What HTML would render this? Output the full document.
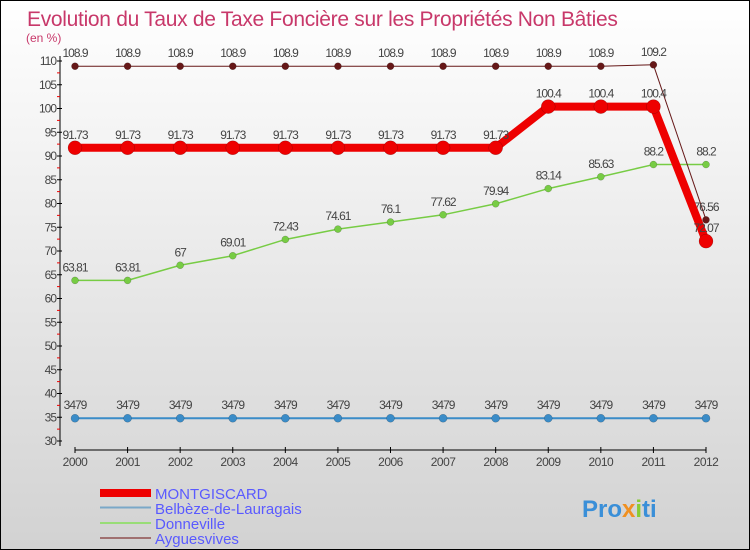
<!DOCTYPE html>
<html><head><meta charset="utf-8"><style>
body{margin:0}
svg{display:block;font-family:"Liberation Sans",sans-serif}
</style></head><body>
<svg width="750" height="550" viewBox="0 0 750 550">
<defs><linearGradient id="bg" x1="0" y1="0" x2="0" y2="1"><stop offset="0" stop-color="#ffffff"/><stop offset="1" stop-color="#d2d2d2"/></linearGradient></defs>
<rect x="0.5" y="0.5" width="749" height="549" fill="url(#bg)" stroke="#000"/>
<text x="27" y="26" font-size="21" fill="#c8386a" letter-spacing="-0.3">Evolution du Taux de Taxe Foncière sur les Propriétés Non Bâties</text>
<text x="26" y="42" font-size="12" fill="#c8386a">(en %)</text>
<g id="axes"></g><g id="series"></g>
<g>
<rect x="100" y="489" width="51" height="8" fill="#ee0000"/>
<text x="155" y="499" font-size="15" fill="#5a5aff">MONTGISCARD</text>
<rect x="100" y="506.5" width="51" height="2" fill="#7aa8c8"/>
<text x="155" y="514" font-size="15" fill="#5a5aff">Belbèze-de-Lauragais</text>
<rect x="100" y="522" width="51" height="2" fill="#99dd77"/>
<text x="155" y="529" font-size="15" fill="#5a5aff">Donneville</text>
<rect x="100" y="537" width="51" height="2" fill="#a07070"/>
<text x="155" y="544" font-size="15" fill="#5a5aff">Ayguesvives</text>
</g>
<text x="582" y="517" font-size="24" font-weight="bold" fill="#3a8fd8">Pro<tspan fill="#f09020">x</tspan><tspan fill="#88cc33">i</tspan>ti</text>
</svg>
<script>
const years=["2000","2001","2002","2003","2004","2005","2006","2007","2008","2009","2010","2011","2012"];
const yTicks=[30,35,40,45,50,55,60,65,70,75,80,85,90,95,100,105,110];
const montgiscard=[91.73,91.73,91.73,91.73,91.73,91.73,91.73,91.73,91.73,100.4,100.4,100.4,72.07];
const belbeze=[34.79,34.79,34.79,34.79,34.79,34.79,34.79,34.79,34.79,34.79,34.79,34.79,34.79];
const donneville=[63.81,63.81,67,69.01,72.43,74.61,76.1,77.62,79.94,83.14,85.63,88.2,88.2];
const ayguesvives=[108.9,108.9,108.9,108.9,108.9,108.9,108.9,108.9,108.9,108.9,108.9,109.2,76.56];
const NS="http://www.w3.org/2000/svg";
const xs=i=>75+i*(706-75)/12;
const ys=v=>441-(v-30)*380/80;
function mk(tag,at,parent){const e=document.createElementNS(NS,tag);for(const k in at)e.setAttribute(k,at[k]);parent.appendChild(e);return e;}
const ax=document.getElementById('axes');
let l=mk('line',{x1:60,y1:56,x2:60,y2:446,stroke:'#000'},ax);


l=mk('line',{x1:75,y1:450,x2:706,y2:450,stroke:'#000'},ax);


yTicks.forEach(v=>{const y=ys(v);
 mk('line',{x1:57,y1:y,x2:62,y2:y,stroke:'#000'},ax);
 if(v<110)mk('line',{x1:57,y1:ys(v+2.5),x2:60,y2:ys(v+2.5),stroke:'#e00'},ax);
 const t=mk('text',{x:56,y:y+4,'font-size':12,'text-anchor':'end',fill:'#444','letter-spacing':'-1'},ax);t.textContent=v;
 
 
});
years.forEach((yr,i)=>{const x=xs(i);
 mk('line',{x1:x,y1:447,x2:x,y2:453,stroke:'#000'},ax);
 const t=mk('text',{x:x,y:466,'font-size':12,'text-anchor':'middle',fill:'#444','letter-spacing':'-0.5'},ax);t.textContent=yr;
 
 
});
const sg=document.getElementById('series');
function series(name,data,color,w,r,fmt){
 const g=mk('g',{},sg);
 
 
 const p=mk('polyline',{points:data.map((v,i)=>xs(i)+','+ys(v)).join(' '),fill:'none',stroke:color,'stroke-width':w,'stroke-linejoin':'round'},g);
 
 
 data.forEach((v,i)=>{
  const c=mk('circle',{cx:xs(i),cy:ys(v),r:r,fill:color,stroke:'rgba(0,0,0,0.3)','stroke-width':0.5},g);
  
  
  const t=mk('text',{x:xs(i),y:ys(v)-9,'font-size':12,'text-anchor':'middle',fill:'#444','letter-spacing':'-1'},g);
  t.textContent=fmt(v);
  
  
 });
}
const f=v=>String(v);
series('belbeze',belbeze,'#3a8cc8',2,4,v=>String(v).replace('.',''));
series('donneville',donneville,'#77cc44',1.5,3.5,f);
series('ayguesvives',ayguesvives,'#661818',1,3.5,f);
series('montgiscard',montgiscard,'#ee0000',8,7,f);
</script>
</body></html>
